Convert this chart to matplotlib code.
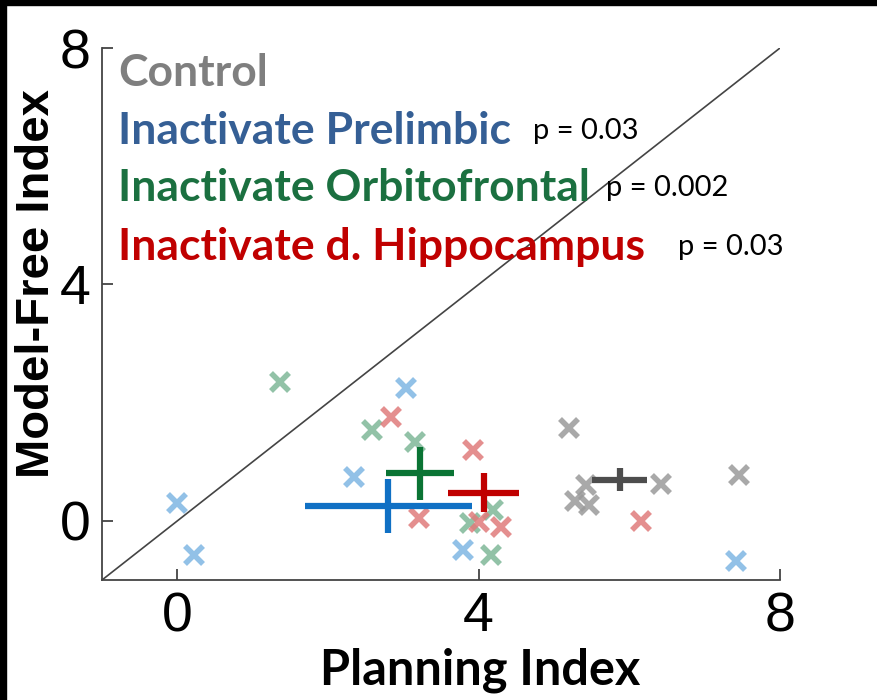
import numpy as np
import matplotlib.pyplot as plt
from matplotlib.patches import Rectangle

# per-animal (planning index, model-free index) for each condition
ctrl_x = [5.20, 5.42, 5.28, 5.47, 6.42, 7.46]
ctrl_y = [1.57, 0.61, 0.33, 0.27, 0.62, 0.78]
pl_x = [0.00, 0.22, 3.04, 2.34, 3.79, 7.42]
pl_y = [0.30, -0.57, 2.24, 0.75, -0.49, -0.68]
ofc_x = [1.36, 2.58, 3.16, 3.89, 4.19, 4.17]
ofc_y = [2.35, 1.54, 1.34, -0.03, 0.19, -0.57]
dh_x = [2.84, 3.92, 3.21, 4.01, 4.29, 6.15]
dh_y = [1.75, 1.20, 0.05, -0.02, -0.11, 0.00]

names = ["Control", "Inactivate Prelimbic", "Inactivate Orbitofrontal",
         "Inactivate d. Hippocampus"]
pvals = ["", "p = 0.03", "p = 0.002", "p = 0.03"]

groups = [(ctrl_x, ctrl_y), (pl_x, pl_y), (ofc_x, ofc_y), (dh_x, dh_y)]
light = ["#9a9a9a", "#7fb6e3", "#7fb898", "#e07b7b"]
dark = ["#4d4d4d", "#1070c4", "#0a7434", "#c00000"]
textcol = ["#7f7f7f", "#355f95", "#1b7040", "#c00000"]

W, H = 877, 700
fig = plt.figure(figsize=(W / 100, H / 100), dpi=100)
ax = fig.add_axes([102 / W, 1 - 580 / H, (780 - 102) / W, (580 - 48) / H])

ax.plot([-1, 8], [-1, 8], color="#444444", lw=1.2, zorder=1)

def sem(v):
    v = np.asarray(v)
    return v.std(ddof=1) / np.sqrt(len(v))

for (gx, gy), c in zip(groups, light):
    ax.plot(gx, gy, ls="none", marker="x", ms=12.5, mew=4, color=c,
            alpha=0.85, zorder=2)

# group means with SEM bars
for (gx, gy), c in zip(groups, dark):
    mx, my = np.mean(gx), np.mean(gy)
    ax.errorbar(mx, my, xerr=sem(gx), yerr=sem(gy), fmt="none",
                ecolor=c, elinewidth=4.5, capsize=0, zorder=3)

ax.set_xlim(-1, 8)
ax.set_ylim(-1, 8)
ax.set_xticks([0, 4, 8])
ax.set_yticks([0, 4, 8])
for s in ["top", "right"]:
    ax.spines[s].set_visible(False)
for s in ["left", "bottom"]:
    ax.spines[s].set_color("#444444")
    ax.spines[s].set_linewidth(1.3)
ax.tick_params(direction="in", length=8, width=1.3, color="#444444",
               labelsize=40, pad=8)
for lab in ax.get_xticklabels() + ax.get_yticklabels():
    lab.set_family(["Liberation Sans Narrow", "Liberation Sans"])

fig.text(37 / W, 1 - 284 / H, "Model-Free Index", rotation=90,
         ha="center", va="center", fontsize=34, fontweight="bold",
         family="Liberation Sans")
fig.text(480 / W, 1 - 670 / H, "Planning Index", ha="center",
         va="center", fontsize=35, fontweight="bold", family="Lato")

ys = [73, 131, 188, 247]
px = [None, 533, 606, 678]
for i in range(4):
    fig.text(118 / W, 1 - ys[i] / H, names[i], ha="left", va="center",
             fontsize=32, fontweight="bold", color=textcol[i], family="Lato")
    if pvals[i]:
        fig.text(px[i] / W, 1 - ys[i] / H, pvals[i], ha="left",
                 va="center", fontsize=21, color="black", family="Lato")

# dark frame strips along the left and top edges
fig.patches.append(Rectangle((0, 0), 6 / W, 1, transform=fig.transFigure,
                             color="black", zorder=10))
fig.patches.append(Rectangle((0, 1 - 5 / H), 1, 5 / H,
                             transform=fig.transFigure, color="black",
                             zorder=10))

fig.savefig("out.png", dpi=100)
